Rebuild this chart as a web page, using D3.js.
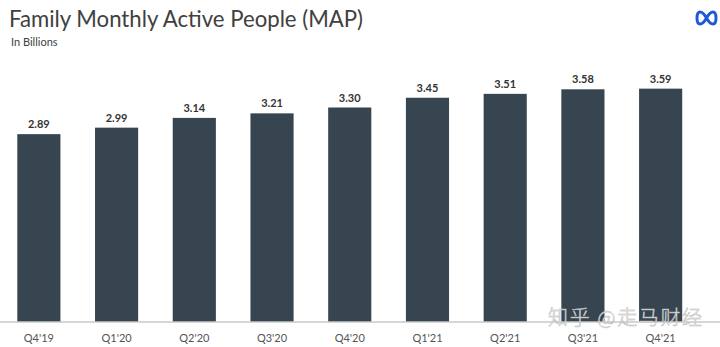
<!DOCTYPE html>
<html><head><meta charset="utf-8">
<script src="https://cdn.jsdelivr.net/npm/d3@7"></script>
<style>body{margin:0;background:#fff}svg{display:block}</style>
</head><body><svg id="c" width="720" height="347"></svg>
<script>
const categories = ["Q4'19","Q1'20","Q2'20","Q3'20","Q4'20","Q1'21","Q2'21","Q3'21","Q4'21"];
const values = [2.89,2.99,3.14,3.21,3.30,3.45,3.51,3.58,3.59];
const valueLabels = ["2.89","2.99","3.14","3.21","3.30","3.45","3.51","3.58","3.59"];

const svg = d3.select("#c");
const x = d3.scaleBand().domain(categories).range([0, 699.5]).paddingInner(0.445).paddingOuter(0.2225);
const y = d3.scaleLinear().domain([0,4]).range([322,62]);

svg.append("text").attr("x",9).attr("y",27).attr("font-family","Lato, 'Open Sans', sans-serif")
  .attr("font-size",24).attr("fill","#404040").attr("textLength",354).attr("lengthAdjust","spacingAndGlyphs")
  .text("Family Monthly Active People (MAP)");
svg.append("text").attr("x",11).attr("y",46).attr("font-family","Lato, 'Open Sans', sans-serif")
  .attr("font-size",11).attr("fill","#404040").text("In Billions");

// meta logo
svg.append("path").attr("d","M697,18 C697,10 702,10 706.5,18 C711,26 716,26 716,18 C716,10 711,10 706.5,18 C702,26 697,26 697,18 Z")
  .attr("fill","none").attr("stroke","#1d5bd6").attr("stroke-width",3);

svg.selectAll("rect.bar").data(values).join("rect").attr("class","bar")
  .attr("x",(d,i)=>x(categories[i])).attr("width",x.bandwidth())
  .attr("y",d=>y(d)).attr("height",d=>y(0)-y(d)).attr("fill","#36454f");

svg.selectAll("text.val").data(values).join("text").attr("class","val")
  .attr("x",(d,i)=>x(categories[i])+x.bandwidth()/2).attr("y",d=>y(d)-6)
  .attr("text-anchor","middle").attr("font-family","Lato, 'Open Sans', sans-serif").attr("font-weight","bold")
  .attr("font-size",11).attr("fill","#333").text((d,i)=>valueLabels[i]);

const xAxis = svg.append("g").attr("transform","translate(0,322)")
  .call(d3.axisBottom(x).tickSize(0).tickPadding(12));
xAxis.select(".domain").attr("stroke","#c8c8c8").attr("stroke-width",1.5).attr("d","M0,0H720");
xAxis.selectAll("text").attr("font-family","Lato, 'Open Sans', sans-serif").attr("font-size",11).attr("fill","#555");

svg.append("text").attr("x",548).attr("y",325).attr("font-family","'Noto Sans CJK SC', sans-serif")
  .attr("font-size",20).attr("font-weight",300).attr("fill","#ffffff").attr("fill-opacity",0.9).attr("stroke","#b5b5b5").attr("stroke-width",0.5)
  .attr("textLength",154).attr("lengthAdjust","spacing")
  .text("知乎 @走马财经");
</script></body></html>
